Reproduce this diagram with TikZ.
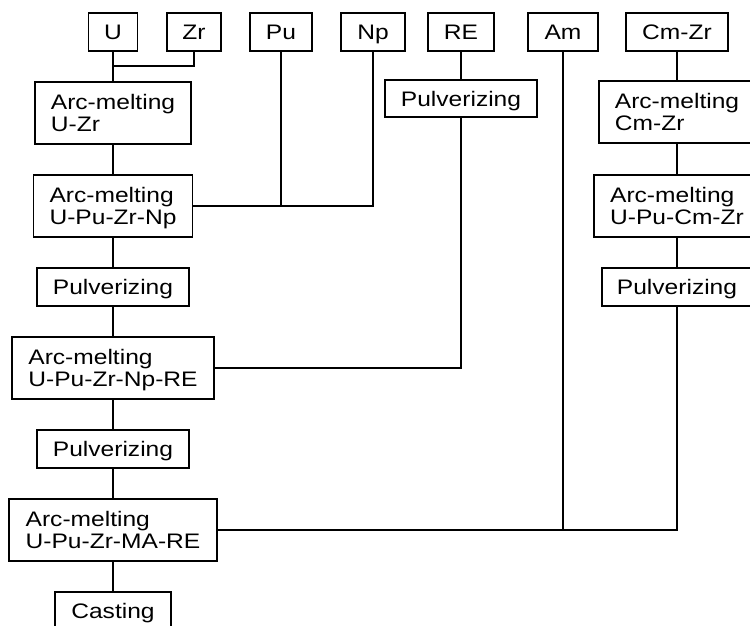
\documentclass[tikz,border=0pt]{standalone}
\usepackage{fontspec}
\setmainfont[FakeStretch=1.17]{Liberation Sans}
\begin{document}
\begin{tikzpicture}[x=1pt,y=-1pt,
  every node/.style={font=\fontsize{21}{22.5}\selectfont},
  box/.style={draw, line width=1.4pt, inner sep=0pt, text depth=0pt, minimum height=38pt, align=left},
  tallbox/.style={box, minimum height=62pt},
  link/.style={line width=1.4pt}]
\useasboundingbox (0,0) rectangle (750,626);
\clip (0,0) rectangle (750,626);
% top raw materials
\node[box, minimum width=49pt]  (u)    at (113,32) {U};
\node[box, minimum width=54pt]  (zr)   at (194,32) {Zr};
\node[box, minimum width=62pt]  (pu)   at (281,32) {Pu};
\node[box, minimum width=64pt]  (np)   at (373,32) {Np};
\node[box, minimum width=66pt]  (re)   at (461,32) {RE};
\node[box, minimum width=70pt]  (am)   at (563,32) {Am};
\node[box, minimum width=102pt] (cmzr) at (677,32) {Cm-Zr};
% left column
\node[tallbox, minimum width=156pt] (azr)   at (113,113) {Arc-melting\\U-Zr};
\node[tallbox, minimum width=159pt] (anp)   at (113,206) {Arc-melting\\U-Pu-Zr-Np};
\node[box, minimum width=152pt]     (pv1)   at (113,287) {Pulverizing};
\node[tallbox, minimum width=202pt] (anpre) at (113,368) {Arc-melting\\U-Pu-Zr-Np-RE};
\node[box, minimum width=152pt]     (pv2)   at (113,449) {Pulverizing};
\node[tallbox, minimum width=208pt] (amare) at (113,530) {Arc-melting\\U-Pu-Zr-MA-RE};
\node[box, minimum width=116pt]     (cast)  at (113,611) {Casting};
% RE column
\node[box, minimum width=152pt, minimum height=37pt] (pvre) at (461,98.5) {Pulverizing};
% right column
\node[tallbox, minimum width=156pt] (azc)  at (677,112) {Arc-melting\\Cm-Zr};
\node[tallbox, minimum width=166pt] (aupc) at (677,206) {Arc-melting\\U-Pu-Cm-Zr};
\node[box, minimum width=150pt]     (pvr)  at (677,287) {Pulverizing};
\coordinate (j1) at (113,66);
% connectors
\draw[link] (u.south) -- (azr.north);
\draw[link] (zr.south) |- (j1);
\draw[link] (azr.south) -- (anp.north);
\draw[link] (anp.east) -| (np.south);
\draw[link] (pu.south) -- (pu.south |- anp.east);
\draw[link] (anp.south) -- (pv1.north);
\draw[link] (pv1.south) -- (anpre.north);
\draw[link] (re.south) -- (pvre.north);
\draw[link] (pvre.south) |- (anpre.east);
\draw[link] (anpre.south) -- (pv2.north);
\draw[link] (pv2.south) -- (amare.north);
\draw[link] (amare.south) -- (cast.north);
\draw[link] (cmzr.south) -- (azc.north);
\draw[link] (azc.south) -- (aupc.north);
\draw[link] (aupc.south) -- (pvr.north);
\draw[link] (pvr.south) |- (amare.east);
\draw[link] (am.south) -- (am.south |- amare.east);
\end{tikzpicture}
\end{document}
